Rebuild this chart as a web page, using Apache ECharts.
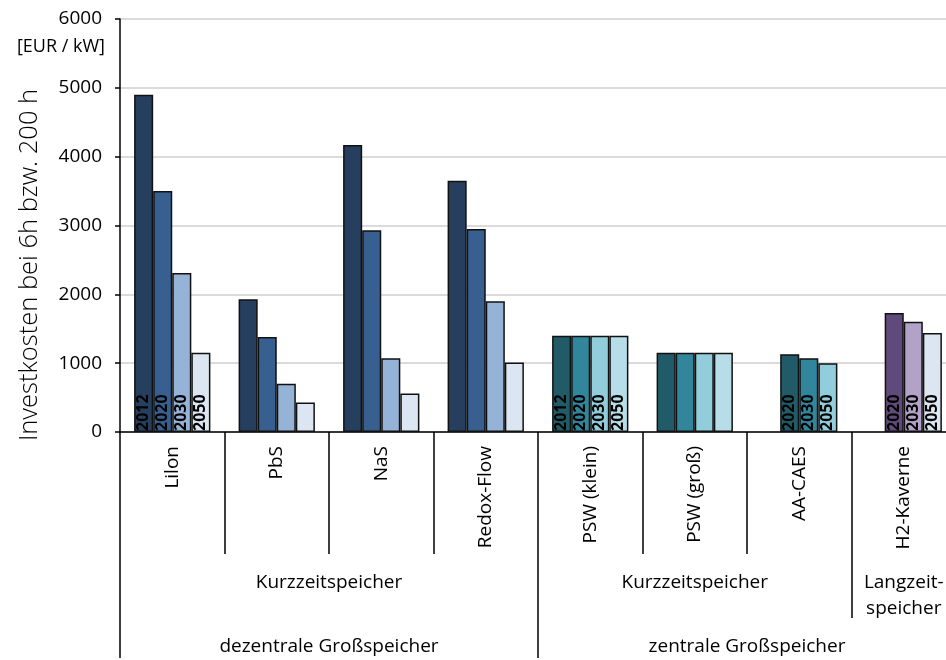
<!DOCTYPE html>
<html><head><meta charset="utf-8">
<script src="https://cdn.jsdelivr.net/npm/echarts@6/dist/echarts.min.js"></script>
<style>html,body{margin:0;padding:0;background:#fff;overflow:hidden}#c{width:956px;height:660px}</style>
</head><body><div id="c"></div>
<script>
// ---- data ----
const categories = ['Lilon','PbS','NaS','Redox-Flow','PSW (klein)','PSW (groß)','AA-CAES','H2-Kaverne'];
const years = ['2012','2020','2030','2050'];
const values2012 = [4900,1930,4170,3650,1400,1150,null,null];
const values2020 = [3500,1380,2930,2950,1400,1150,1130,1730];
const values2030 = [2310,700,1070,1900,1400,1150,1070,1600];
const values2050 = [1150,430,560,1010,1400,1150,1000,1440];
const yMin = 0, yMax = 6000, yStep = 1000;
const yUnit = '[EUR / kW]';
const yTitle = 'Investkosten bei 6h bzw. 200 h';
const labelledCategories = ['Lilon','PSW (klein)','AA-CAES','H2-Kaverne'];
const typeGroups = ['Kurzzeitspeicher','Kurzzeitspeicher','Langzeit-\nspeicher'];
const typeGroupSizes = [4,3,1];
const placeGroups = ['dezentrale Großspeicher','zentrale Großspeicher'];
const placeGroupSizes = [4,4];
const colorFamily = ['blue','blue','blue','blue','teal','teal','teal','purple'];
const palettes = {
  blue:   ['#263f5f','#375f90','#95b3d7','#dce6f2'],
  teal:   ['#215b67','#31869c','#92cddc','#b7dee8'],
  purple: ['#5f4a7b','#b3a2c7','#dce6f2']
};

// ---- helpers ----
function groupLayout(sizes){
  const centers=[], bounds=[]; let acc=0;
  sizes.forEach(s=>{ centers.push(acc+s/2); acc+=s; bounds.push(acc); });
  return {centers, bounds};
}
const typeLayout = groupLayout(typeGroupSizes);
const placeLayout = groupLayout(placeGroupSizes);
const FONT = 'Open Sans';
const seriesValues = [values2012, values2020, values2030, values2050];

// colour = rank of the bar among the bars present in its category
function barColor(si, ci){
  let rank = 0;
  for (let k = 0; k < si; k++) if (seriesValues[k][ci] != null) rank++;
  return palettes[colorFamily[ci]][rank];
}

const series = years.map((yr, si) => ({
  name: yr,
  type: 'bar',
  barGap: 0,
  barCategoryGap: '27%',
  xAxisIndex: 0,
  yAxisIndex: 0,
  itemStyle: { borderColor: '#111', borderWidth: 1.5 },
  label: {
    show: false, position: 'insideBottom', rotate: 90, align: 'left', verticalAlign: 'middle',
    distance: 1, fontFamily: FONT, fontWeight: 'bold', fontSize: 16, color: '#000',
    formatter: () => yr
  },
  data: seriesValues[si].map((v, ci) => ({
    value: v,
    itemStyle: { color: v == null ? 'transparent' : barColor(si, ci) },
    label: { show: labelledCategories.includes(categories[ci]) && v != null }
  }))
}));

const chart = echarts.init(document.getElementById('c'), null, {renderer:'canvas'});
chart.setOption({
  animation: false,
  backgroundColor: '#fff',
  grid: { left: 120, top: 19, bottom: 226, right: 0, containLabel: false },
  xAxis: [
    {
      type: 'category', data: categories, position: 'bottom',
      axisLine: { show: true, lineStyle: { color: '#000', width: 1.5 } },
      axisTick: { show: true, length: 122, lineStyle: { color: '#000', width: 1.5 } },
      axisLabel: { interval: 0, rotate: 90, margin: 14, fontFamily: FONT, fontSize: 19, color: '#000' },
      splitLine: { show: false }
    },
    {
      type: 'value', min: 0, max: categories.length, position: 'bottom',
      axisLine: { show: false }, splitLine: { show: false },
      axisTick: { show: true, customValues: typeLayout.bounds.slice(0, -1).filter(b => !placeLayout.bounds.includes(b)), length: 186, lineStyle: { color: '#000', width: 1.5 } },
      axisLabel: { show: true, customValues: typeLayout.centers, margin: 138, fontFamily: FONT, fontSize: 19, lineHeight: 26, color: '#000', align: 'center',
        formatter: v => { const i = typeLayout.centers.findIndex(c => Math.abs(c - v) < 1e-6); return i >= 0 ? typeGroups[i] : ''; } }
    },
    {
      type: 'value', min: 0, max: categories.length, position: 'bottom',
      axisLine: { show: false }, splitLine: { show: false },
      axisTick: { show: true, customValues: [0].concat(placeLayout.bounds.slice(0, -1)), length: 226, lineStyle: { color: '#000', width: 1.5 } },
      axisLabel: { show: true, customValues: placeLayout.centers, margin: 202, fontFamily: FONT, fontSize: 19, lineHeight: 26, color: '#000', align: 'center',
        formatter: v => { const i = placeLayout.centers.findIndex(c => Math.abs(c - v) < 1e-6); return i >= 0 ? placeGroups[i] : ''; } }
    }
  ],
  yAxis: {
    type: 'value', min: yMin, max: yMax, interval: yStep,
    axisLine: { show: true, lineStyle: { color: '#000', width: 1.5 } },
    axisTick: { show: true, length: 5, lineStyle: { color: '#000', width: 1.5 } },
    axisLabel: { margin: 18, fontFamily: FONT, fontSize: 19, color: '#000', formatter: v => String(v) },
    splitLine: { show: true, lineStyle: { color: '#cfcfcf', width: 1.5 } }
  },
  graphic: [
    { type: 'text', x: 105, y: 47, style: { text: yUnit, fontFamily: FONT, fontSize: 18, fill: '#000', align: 'right', verticalAlign: 'middle', textAlign: 'right', textVerticalAlign: 'middle' } },
    { type: 'text', x: 30, y: 265, rotation: Math.PI / 2, style: { text: yTitle, fontFamily: FONT, fontSize: 25.5, fontWeight: 300, fill: '#000', align: 'center', verticalAlign: 'middle', textAlign: 'center', textVerticalAlign: 'middle' } }
  ],
  series: series
});
</script>
</body></html>
